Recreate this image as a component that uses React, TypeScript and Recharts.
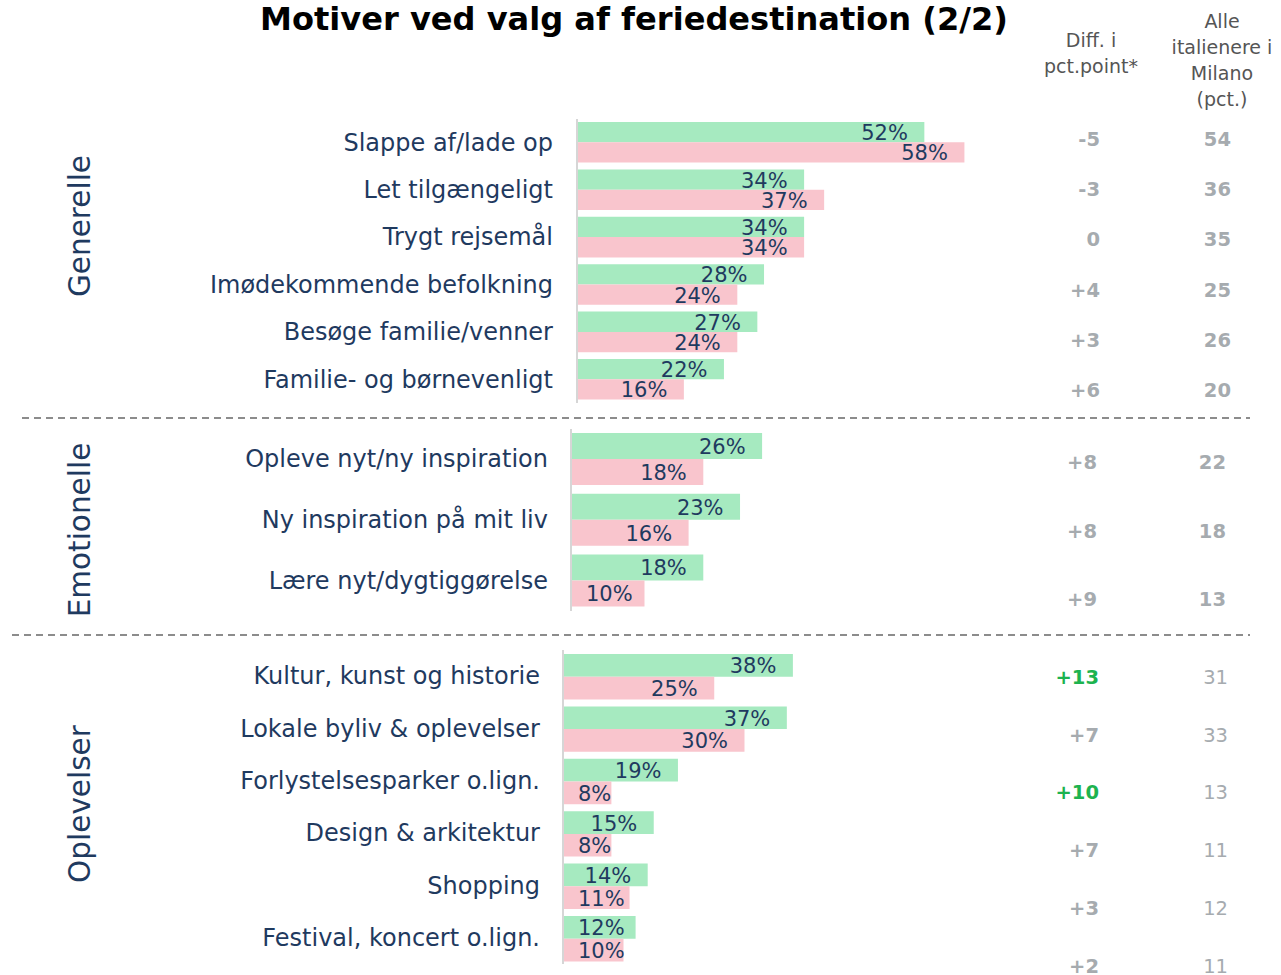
import React from 'react';
import { BarChart, Bar, XAxis, YAxis, LabelList } from 'recharts';

const FONT = "'DejaVu Sans', sans-serif";
const NAVY = '#1f3a5f';
const GREEN = '#a6eac0';
const PINK = '#f9c5cd';
const GRAY = '#a6abaf';
const SIG_GREEN = '#1db34f';

// ---- Data ----
const titleText = 'Motiver ved valg af feriedestination (2/2)';
const diffHeader = ['Diff. i', 'pct.point*'];
const alleHeader = ['Alle', 'italienere i', 'Milano', '(pct.)'];

const generelleCategories = [
  'Slappe af/lade op',
  'Let tilgængeligt',
  'Trygt rejsemål',
  'Imødekommende befolkning',
  'Besøge familie/venner',
  'Familie- og børnevenligt',
];
const generelleGroup = [52, 34, 34, 28, 27, 22];
const generelleCompare = [58, 37, 34, 24, 24, 16];
const generelleDiff = ['-5', '-3', '0', '+4', '+3', '+6'];
const generelleSig = [false, false, false, false, false, false];
const generelleAlle = [54, 36, 35, 25, 26, 20];

const emotionelleCategories = [
  'Opleve nyt/ny inspiration',
  'Ny inspiration på mit liv',
  'Lære nyt/dygtiggørelse',
];
const emotionelleGroup = [26, 23, 18];
const emotionelleCompare = [18, 16, 10];
const emotionelleDiff = ['+8', '+8', '+9'];
const emotionelleSig = [false, false, false];
const emotionelleAlle = [22, 18, 13];

const oplevelserCategories = [
  'Kultur, kunst og historie',
  'Lokale byliv & oplevelser',
  'Forlystelsesparker o.lign.',
  'Design & arkitektur',
  'Shopping',
  'Festival, koncert o.lign.',
];
const oplevelserGroup = [38, 37, 19, 15, 14, 12];
const oplevelserCompare = [25, 30, 8, 8, 11, 10];
const oplevelserDiff = ['+13', '+7', '+10', '+7', '+3', '+2'];
const oplevelserSig = [true, false, true, false, false, false];
const oplevelserAlle = [31, 33, 13, 11, 12, 11];

const buildRows = (cats: string[], a: number[], b: number[]) =>
  cats.map((name, i) => ({ name, group: a[i], compare: b[i] }));

const LABEL_FS = 21;
const estWidth = (s: string, fs: number) => {
  let w = 0;
  for (const ch of s) w += ch === '%' ? 0.95 : 0.636;
  return w * fs;
};

const makeLabel = (rightPad: number, minLeft: number) => (props: any) => {
  const { x, y, width, height, value } = props;
  const txt = `${value}%`;
  const w = estWidth(txt, LABEL_FS);
  const right = x + width - rightPad;
  const cy = y + height / 2 + 1;
  if (right - w < x + minLeft) {
    return (
      <text x={x + minLeft} y={cy} textAnchor="start" dominantBaseline="central"
        fill={NAVY} fontSize={LABEL_FS} fontFamily={FONT}>{txt}</text>
    );
  }
  return (
    <text x={right} y={cy} textAnchor="end" dominantBaseline="central"
      fill={NAVY} fontSize={LABEL_FS} fontFamily={FONT}>{txt}</text>
  );
};

const CatTick = (props: any) => {
  const { x, y, payload } = props;
  return (
    <text x={x} y={y} textAnchor="end" dominantBaseline="central"
      fill={NAVY} fontSize={24} fontFamily={FONT}>{payload.value}</text>
  );
};

type SectionProps = {
  cats: string[];
  a: number[];
  b: number[];
  top: number;
  axisX: number;
  pxPerPct: number;
  band: number;
  barSize: number;
  tickGap: number;
};

const CHART_W = 1040;

const Section = ({ cats, a, b, top, axisX, pxPerPct, band, barSize, tickGap }: SectionProps) => {
  const data = buildRows(cats, a, b);
  const h = band * cats.length;
  const maxX = (CHART_W - axisX) / pxPerPct;
  return (
    <div style={{ position: 'absolute', left: 0, top }}>
      <BarChart width={CHART_W} height={h} data={data} layout="vertical"
        margin={{ top: 0, right: 0, bottom: 0, left: 0 }} barGap={0}>
        <XAxis type="number" domain={[0, maxX]} hide allowDataOverflow />
        <YAxis type="category" dataKey="name" width={axisX} interval={0}
          tickSize={0} tickMargin={tickGap} tickLine={false}
          axisLine={{ stroke: '#d6d6d6', strokeWidth: 2 }} tick={<CatTick />} />
        <Bar dataKey="group" fill={GREEN} barSize={barSize} isAnimationActive={false}>
          <LabelList dataKey="group" content={makeLabel(16.5, 15)} />
        </Bar>
        <Bar dataKey="compare" fill={PINK} barSize={barSize} isAnimationActive={false}>
          <LabelList dataKey="compare" content={makeLabel(16.5, 15)} />
        </Bar>
      </BarChart>
    </div>
  );
};

type TableProps = {
  diff: string[];
  sig: boolean[];
  alle: number[];
  y0: number;
  step: number;
  diffRight: number;
  alleRight: number;
  alleWeight: number;
};

const TableCols = ({ diff, sig, alle, y0, step, diffRight, alleRight, alleWeight }: TableProps) => (
  <g fontFamily={FONT} fontSize={19.5}>
    {diff.map((d, i) => (
      <text key={`d${i}`} x={diffRight} y={y0 + i * step} textAnchor="end" dominantBaseline="central"
        fontWeight={700} fill={sig[i] ? SIG_GREEN : GRAY}>{d}</text>
    ))}
    {alle.map((v, i) => (
      <text key={`a${i}`} x={alleRight} y={y0 + i * step} textAnchor="end" dominantBaseline="central"
        fontWeight={alleWeight} fill={GRAY}>{v}</text>
    ))}
  </g>
);

export default function App() {
  return (
    <div style={{ position: 'absolute', left: 0, top: 0, width: 1281, height: 975, background: '#fff', overflow: 'hidden' }}>
      <svg width={1281} height={975} style={{ position: 'absolute', left: 0, top: 0 }}>
        <text x={634} y={30} textAnchor="middle" fontFamily={FONT} fontWeight={800} fontSize={32}
          fill="#000" textLength={748} lengthAdjust="spacingAndGlyphs">{titleText}</text>
        {diffHeader.map((t, i) => (
          <text key={t} x={1091} y={47 + i * 26} textAnchor="middle" fontFamily={FONT} fontSize={19}
            fill="#555">{t}</text>
        ))}
        {alleHeader.map((t, i) => (
          <text key={t} x={1222} y={28 + i * 26} textAnchor="middle" fontFamily={FONT} fontSize={19}
            fill="#555">{t}</text>
        ))}
        <text transform="translate(80,226) rotate(-90)" textAnchor="middle" dominantBaseline="central"
          fontFamily={FONT} fontSize={29.5} fill={NAVY}>Generelle</text>
        <text transform="translate(80,530) rotate(-90)" textAnchor="middle" dominantBaseline="central"
          fontFamily={FONT} fontSize={29.5} fill={NAVY}>Emotionelle</text>
        <text transform="translate(80,804) rotate(-90)" textAnchor="middle" dominantBaseline="central"
          fontFamily={FONT} fontSize={29.5} fill={NAVY}>Oplevelser</text>
        <line x1={22} y1={418} x2={1250} y2={418} stroke="#8c8c8c" strokeWidth={2} strokeDasharray="7 5" />
        <line x1={12} y1={635} x2={1250} y2={635} stroke="#8c8c8c" strokeWidth={2} strokeDasharray="7 5" />
        <TableCols diff={generelleDiff} sig={generelleSig} alle={generelleAlle} y0={139.5} step={50.2}
          diffRight={1100} alleRight={1231} alleWeight={700} />
        <TableCols diff={emotionelleDiff} sig={emotionelleSig} alle={emotionelleAlle} y0={462.5} step={68.7}
          diffRight={1097} alleRight={1226} alleWeight={700} />
        <TableCols diff={oplevelserDiff} sig={oplevelserSig} alle={oplevelserAlle} y0={677.5} step={57.7}
          diffRight={1099} alleRight={1228} alleWeight={400} />
      </svg>
      <Section cats={generelleCategories} a={generelleGroup} b={generelleCompare} top={119}
        axisX={577} pxPerPct={6.68} band={47.4} barSize={20.3} tickGap={24} />
      <Section cats={emotionelleCategories} a={emotionelleGroup} b={emotionelleCompare} top={429}
        axisX={571} pxPerPct={7.35} band={60.7} barSize={26} tickGap={23} />
      <Section cats={oplevelserCategories} a={oplevelserGroup} b={oplevelserCompare} top={650}
        axisX={563} pxPerPct={6.05} band={52.4} barSize={22.7} tickGap={23} />
    </div>
  );
}
